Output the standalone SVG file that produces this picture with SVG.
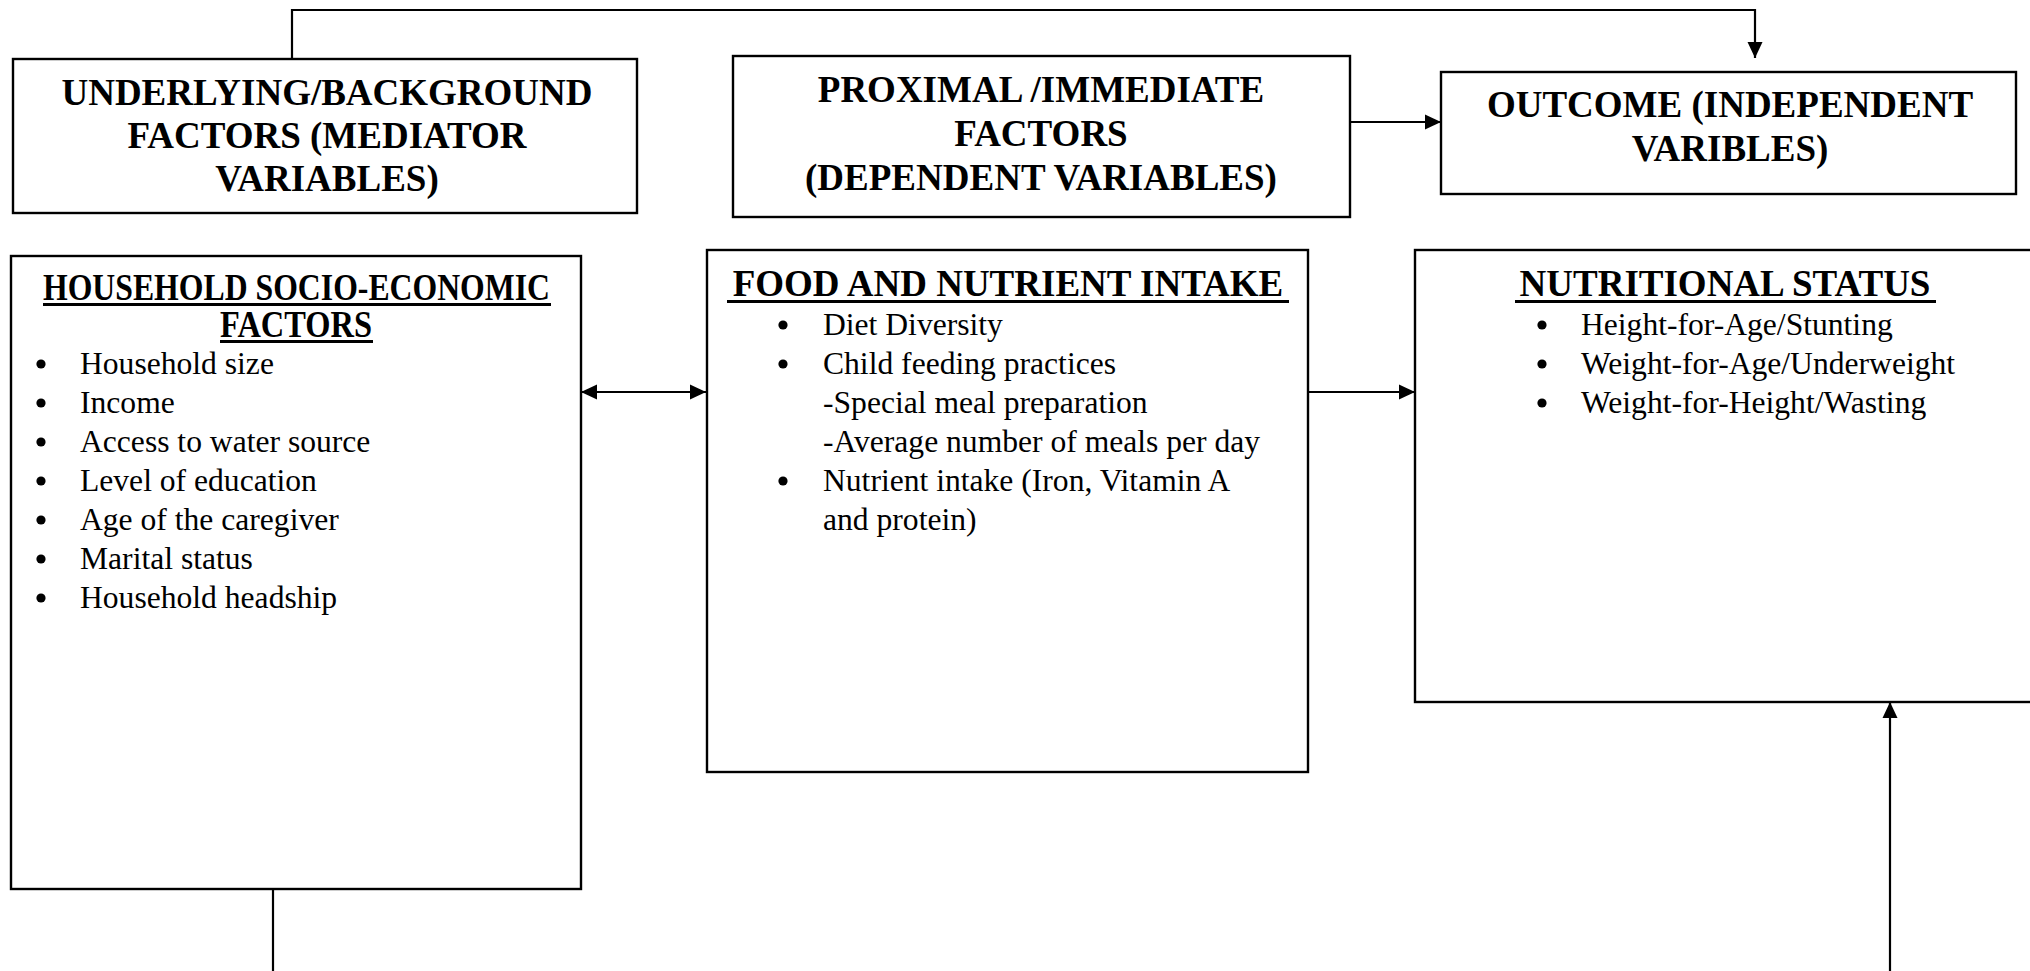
<svg xmlns="http://www.w3.org/2000/svg" width="2030" height="971" viewBox="0 0 2030 971">
<style>
.box{fill:#fff;stroke:#000;stroke-width:2.4}
.ln{fill:none;stroke:#000;stroke-width:2.2}
.ul{stroke:#000;stroke-width:3}
.h{font-family:"Liberation Serif","Times New Roman",serif;font-weight:bold;font-size:37px;fill:#000;text-anchor:middle}
.hs{font-family:"Liberation Serif","Times New Roman",serif;font-weight:bold;font-size:37px;fill:#000}
.t{font-family:"Liberation Serif","Times New Roman",serif;font-size:31.6px;fill:#000}
.b{fill:#000}
</style>
<defs>
<marker id="ah" viewBox="0 0 16 16" refX="16" refY="8" markerWidth="16" markerHeight="16" markerUnits="userSpaceOnUse" orient="auto-start-reverse">
<path d="M0,0.5 L16,8 L0,15.5 z" fill="#000"/>
</marker>
</defs>
<rect width="2030" height="971" fill="#fff"/>

<g id="connectors">
<path class="ln" d="M292,59 V10 H1755 V58" marker-end="url(#ah)"/>
<path class="ln" d="M1350,122 H1441" marker-end="url(#ah)"/>
<path class="ln" d="M581,392 H706" marker-start="url(#ah)" marker-end="url(#ah)"/>
<path class="ln" d="M1308,392 H1415" marker-end="url(#ah)"/>
<path class="ln" d="M273,889 V971"/>
<path class="ln" d="M1890,971 V702" marker-end="url(#ah)"/>
</g>

<g id="underlying">
<rect class="box" x="13" y="59" width="624" height="154"/>
<text class="h" x="327" y="105">UNDERLYING/BACKGROUND</text>
<text class="h" x="327" y="148">FACTORS (MEDIATOR</text>
<text class="h" x="327" y="191">VARIABLES)</text>
</g>

<g id="proximal">
<rect class="box" x="733" y="56" width="617" height="161"/>
<text class="h" x="1041" y="102">PROXIMAL /IMMEDIATE</text>
<text class="h" x="1041" y="146">FACTORS</text>
<text class="h" x="1041" y="190">(DEPENDENT VARIABLES)</text>
</g>

<g id="outcome">
<rect class="box" x="1441" y="72" width="575" height="122"/>
<text class="h" x="1730" y="117">OUTCOME (INDEPENDENT</text>
<text class="h" x="1730" y="161">VARIBLES)</text>
</g>

<g id="household">
<rect class="box" x="11" y="256" width="570" height="633"/>
<text class="hs" x="43" y="300" textLength="507" lengthAdjust="spacingAndGlyphs">HOUSEHOLD SOCIO-ECONOMIC</text>
<line class="ul" x1="43" y1="304.5" x2="551" y2="304.5"/>
<text class="hs" x="220" y="337" textLength="152" lengthAdjust="spacingAndGlyphs">FACTORS</text>
<line class="ul" x1="220" y1="341.5" x2="373" y2="341.5"/>
<circle class="b" cx="41" cy="364" r="4.6"/><text class="t" x="80" y="374">Household size</text>
<circle class="b" cx="41" cy="403" r="4.6"/><text class="t" x="80" y="413">Income</text>
<circle class="b" cx="41" cy="442" r="4.6"/><text class="t" x="80" y="452">Access to water source</text>
<circle class="b" cx="41" cy="481" r="4.6"/><text class="t" x="80" y="491">Level of education</text>
<circle class="b" cx="41" cy="520" r="4.6"/><text class="t" x="80" y="530">Age of the caregiver</text>
<circle class="b" cx="41" cy="559" r="4.6"/><text class="t" x="80" y="569">Marital status</text>
<circle class="b" cx="41" cy="598" r="4.6"/><text class="t" x="80" y="608">Household headship</text>
</g>

<g id="food">
<rect class="box" x="707" y="250" width="601" height="522"/>
<text class="h" x="1008" y="296">FOOD AND NUTRIENT INTAKE</text>
<line class="ul" x1="727" y1="301.5" x2="1289" y2="301.5"/>
<circle class="b" cx="783" cy="325" r="4.6"/><text class="t" x="823" y="335">Diet Diversity</text>
<circle class="b" cx="783" cy="364" r="4.6"/><text class="t" x="823" y="374">Child feeding practices</text>
<text class="t" x="823" y="413">-Special meal preparation</text>
<text class="t" x="823" y="452">-Average number of meals per day</text>
<circle class="b" cx="783" cy="481" r="4.6"/><text class="t" x="823" y="491">Nutrient intake (Iron, Vitamin A</text>
<text class="t" x="823" y="530">and protein)</text>
</g>

<g id="nutritional">
<rect class="box" x="1415" y="250" width="640" height="452"/>
<text class="h" x="1725" y="296">NUTRITIONAL STATUS</text>
<line class="ul" x1="1515" y1="301.5" x2="1936" y2="301.5"/>
<circle class="b" cx="1542" cy="325" r="4.6"/><text class="t" x="1581" y="335">Height-for-Age/Stunting</text>
<circle class="b" cx="1542" cy="364" r="4.6"/><text class="t" x="1581" y="374">Weight-for-Age/Underweight</text>
<circle class="b" cx="1542" cy="403" r="4.6"/><text class="t" x="1581" y="413">Weight-for-Height/Wasting</text>
</g>
</svg>
